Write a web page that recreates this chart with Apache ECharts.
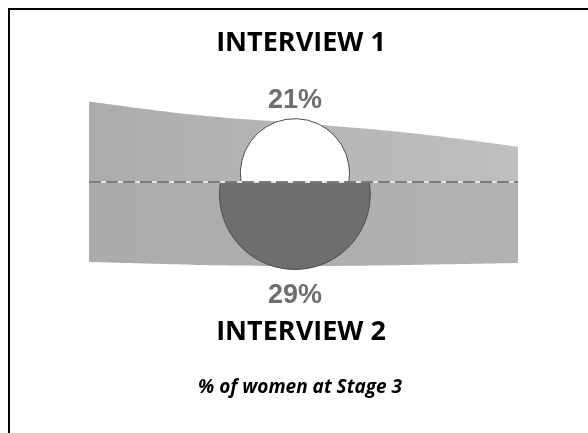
<!DOCTYPE html>
<html><head><meta charset="utf-8">
<script src="https://cdn.jsdelivr.net/npm/echarts@6/dist/echarts.min.js"></script>
<style>html,body{margin:0;padding:0;background:#fff}#c{width:588px;height:433px}</style>
</head><body><div id="c"></div>
<script>
// Band shape (position along band, thickness above / below the divider)
const bandX = [0, 25, 50, 75, 100];
const bandTop = [31, 25.8, 22.5, 18.8, 13.5];
const bandBottom = [30.8, 31.9, 32.3, 31.9, 31.2];
// Stage 3 share per interview
const interviews = ['INTERVIEW 1', 'INTERVIEW 2'];
const stagePct = [21, 29];
const stagePos = [48, 48];
const subtitle = '% of women at Stage 3';

const chart = echarts.init(document.getElementById('c'), null, {renderer: 'canvas'});

const circleData = stagePct.map((p, i) => [stagePos[i], p, i === 0 ? 1 : -1]);

const option = {
  animation: false,
  backgroundColor: '#fff',
  grid: {left: 89, right: 70, top: 52, bottom: 121},
  xAxis: {type: 'value', min: 0, max: 100, show: false},
  yAxis: {type: 'value', min: -50, max: 50, show: false},
  graphic: [
    {type: 'rect', silent: true, shape: {x: 9, y: 9, width: 700, height: 600},
     style: {fill: 'none', stroke: '#000', lineWidth: 2}},
    {type: 'text', x: 301, y: 43, silent: true,
     style: {text: interviews[0], font: 'bold 27px "Open Sans"', fill: '#000', align: 'center', verticalAlign: 'middle'}},
    {type: 'text', x: 301, y: 332, silent: true,
     style: {text: interviews[1], font: 'bold 27px "Open Sans"', fill: '#000', align: 'center', verticalAlign: 'middle'}},
    {type: 'text', x: 300, y: 388, silent: true,
     style: {text: subtitle, font: 'italic bold 19px "Open Sans"', fill: '#000', align: 'center', verticalAlign: 'middle'}}
  ],
  series: [
    {
      type: 'line', z: 1, symbol: 'none', smooth: 0.4,
      data: bandX.map((x, i) => [x, bandTop[i]]),
      lineStyle: {width: 0},
      areaStyle: {opacity: 1, origin: 'auto', color: new echarts.graphic.LinearGradient(0, 0, 1, 0, [
        {offset: 0, color: '#aaacae'}, {offset: 1, color: '#bdbfc1'}])}
    },
    {
      type: 'line', z: 1, symbol: 'none', smooth: 0.4,
      data: bandX.map((x, i) => [x, -bandBottom[i]]),
      lineStyle: {width: 0},
      areaStyle: {opacity: 1, origin: 'auto', color: new echarts.graphic.LinearGradient(0, 0, 1, 0, [
        {offset: 0, color: '#a9abad'}, {offset: 1, color: '#b0b2b4'}])}
    },
    {
      type: 'custom', z: 2,
      data: circleData,
      renderItem: function (params, api) {
        const x = api.value(0), pct = api.value(1), dir = api.value(2);
        const base = api.coord([x, 0]);
        const r = api.size([0, pct])[1];
        const d = r * 0.16;
        const h = Math.sqrt(r * r - d * d);
        const cx = base[0], y0 = base[1];
        const sweep = dir > 0 ? 1 : 0;
        const path = 'M' + (cx - h) + ' ' + y0 + ' A' + r + ' ' + r + ' 0 1 ' + sweep + ' ' + (cx + h) + ' ' + y0 + ' Z';
        const tip = y0 - dir * (d + r);
        return {
          type: 'group',
          children: [
            {type: 'path', shape: {pathData: path},
             style: {fill: dir > 0 ? '#ffffff' : '#6c6e70', stroke: '#4a4a4a', lineWidth: 1}},
            {type: 'text', x: cx, y: dir > 0 ? tip - 18 : tip + 26,
             style: {text: pct + '%', font: 'bold 27px "Liberation Sans"', fill: '#6e6e6e', align: 'center', verticalAlign: 'middle'}}
          ]
        };
      }
    },
    {
      type: 'line', z: 3, symbol: 'none',
      data: [[0, 0], [100, 0]],
      lineStyle: {color: '#e6e6e6', width: 2}
    },
    {
      type: 'line', z: 4, symbol: 'none',
      data: [[0, 0], [100, 0]],
      lineStyle: {color: '#7a7c7e', width: 2, type: [12, 5]}
    }
  ]
};
chart.setOption(option);
</script>
</body></html>
